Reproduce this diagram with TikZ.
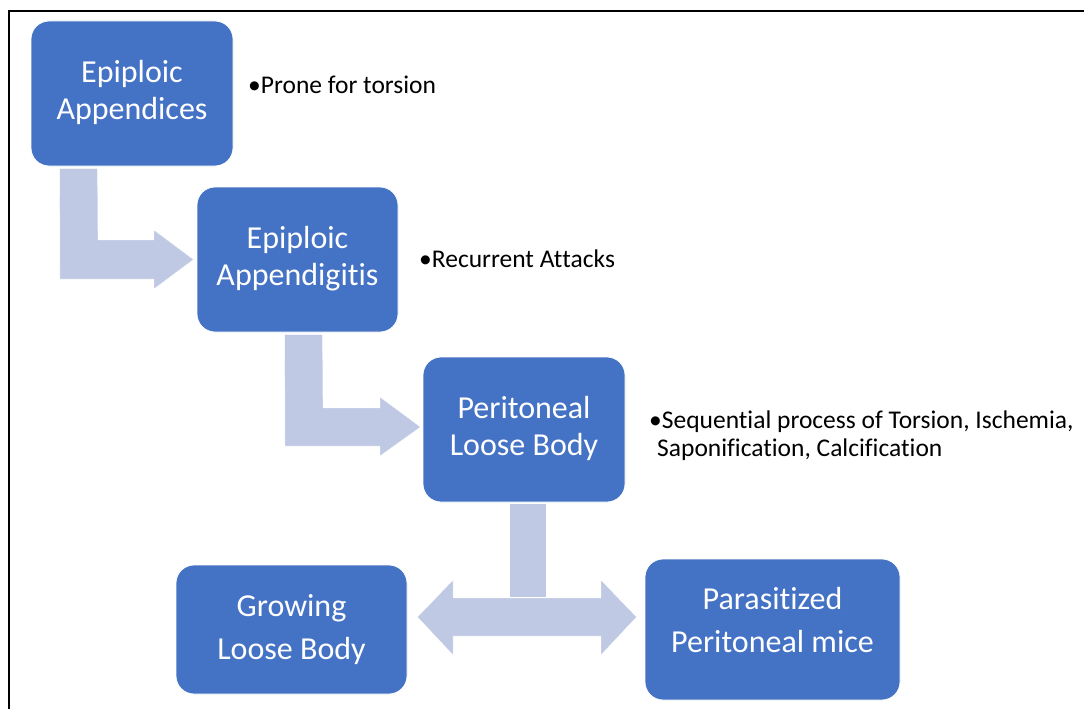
\documentclass[tikz,border=0pt]{standalone}
\usepackage{fontspec}
\setmainfont{Carlito}[Ligatures={NoCommon,NoContextual,NoRequired},RawFeature={-liga;-clig;-dlig;-rlig}]
\usetikzlibrary{calc}
\definecolor{boxblue}{RGB}{68,114,196}
\definecolor{arrowblue}{RGB}{191,201,228}
\newcommand{\nolig}{\kern0pt}
\begin{document}
\begin{tikzpicture}[x=1pt,y=-1pt,
  stepbox/.style={draw=white, line width=0.8pt, fill=boxblue, rounded corners=18pt,
    inner sep=0pt, text=white, font=\fontsize{32}{37}\selectfont},
  bulletnote/.style={anchor=base west, inner sep=0pt, text=black, font=\fontsize{25.5}{28}\selectfont},
  blockarrow/.style={fill=arrowblue, draw=white, line width=0.4pt}]
\useasboundingbox (0,0) rectangle (1084,709);
\fill[white] (0,0) rectangle (1084,709);
% frame
\draw[line width=2pt] (8.5,709) -- (8.5,11) -- (1084,11);

% boxes
\node[stepbox, minimum width=202pt, minimum height=145pt] (b1) at (132,93.5)
  {\begin{tabular}{@{}c@{}}Epiploic\\Appendices\end{tabular}};
\node[stepbox, minimum width=201pt, minimum height=145pt] (b2) at (297.5,259.5)
  {\begin{tabular}{@{}c@{}}Epiploic\\Appendigit\nolig is\end{tabular}};
\node[stepbox, minimum width=202pt, minimum height=145pt] (b3) at (524,429.5)
  {\begin{tabular}{@{}c@{}}Peritoneal\\Loose Body\end{tabular}};
\node[stepbox, minimum width=231pt, minimum height=129pt, font=\fontsize{32}{43}\selectfont] (b4) at (291.5,629.5)
  {\begin{tabular}{@{}c@{}}Growing\\Loose Body\end{tabular}};
\node[stepbox, minimum width=255pt, minimum height=141pt, font=\fontsize{32}{43}\selectfont] (b5) at (772.5,629.5)
  {\begin{tabular}{@{}c@{}}Parasit\nolig ized\\Peritoneal mice\rule[-28pt]{0pt}{1pt}\end{tabular}};

% notes
\node[bulletnote] (n1) at (248,93) {•Prone for torsion};
\node[bulletnote] (n2) at (419,267) {•Recurrent At\nolig tacks};
\node[bulletnote] (n3) at (649,428)
  {\begin{tabular}[t]{@{}l@{}}•Sequent\nolig ial process of Torsion, Ischemia,\\\hspace*{8pt}Saponif\nolig icat\nolig ion, Calcif\nolig icat\nolig ion\end{tabular}};

% connector tips
\coordinate (t1) at ($(b2.west)+(-3,0)$);
\coordinate (t2) at ($(b3.west)+(-2,-2.5)$);
\coordinate (t3l) at ($(b4.east)+(10,-12.5)$);
\coordinate (t3r) at ($(b5.west)+(-8,-12.5)$);

% bent arrow b1 -> b2
\path[blockarrow] ($(b1.south west)+(29,2)$) -- ++(38,0) -- (98,240) -- (154,240) -- (154,230)
  -- (t1) -- (154,289) -- (154,279) -- (60,279) -- cycle;
% bent arrow b2 -> b3
\path[blockarrow] ($(b2.south west)+(88,2)$) -- ++(38,0) -- (323,408) -- (380,408) -- (380,397)
  -- (t2) -- (380,456) -- (380,446) -- (285,446) -- cycle;
% stem from b3
\path[blockarrow] ($(b3.south)+(-15,1)$) rectangle (546,597);
% double arrow b4 <-> b5
\path[blockarrow] (t3l) -- (453,580) -- (453,598) -- (601,598) -- (601,580) -- (t3r)
  -- (601,655) -- (601,636) -- (453,636) -- (453,655) -- cycle;
\end{tikzpicture}
\end{document}
